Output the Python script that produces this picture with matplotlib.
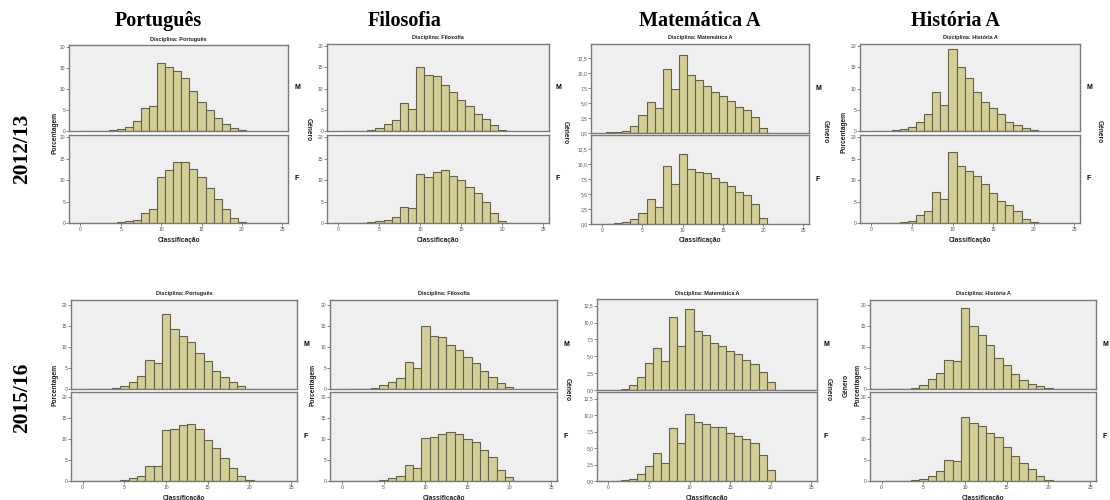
import matplotlib.pyplot as plt
import numpy as np

# classificação (0-20 scale), bins centred on integers
grades = np.arange(1, 21)

# 2012/13, percentages per grade
pt_12_m = [0.02, 0.02, 0.05, 0.15, 0.5, 1.0, 2.3, 5.4, 5.9, 16.3, 15.2, 14.3, 12.6, 9.5, 6.8, 5.1, 3.1, 1.6, 0.6, 0.15]
pt_12_f = [0.0, 0.01, 0.02, 0.05, 0.15, 0.4, 0.8, 2.4, 3.3, 10.8, 12.4, 14.3, 14.1, 12.6, 10.6, 8.2, 5.6, 3.2, 1.2, 0.15]
fil_12_m = [0.0, 0.02, 0.1, 0.3, 0.8, 1.7, 2.6, 6.5, 5.3, 15.0, 13.2, 12.9, 10.9, 9.1, 7.3, 5.9, 4.1, 2.9, 1.4, 0.3]
fil_12_f = [0.0, 0.02, 0.05, 0.2, 0.4, 0.7, 1.4, 3.8, 3.4, 11.3, 10.8, 11.9, 12.3, 11.0, 10.0, 8.3, 6.9, 5.0, 2.4, 0.5]
mat_12_m = [0.1, 0.2, 0.4, 1.1, 3.0, 5.2, 4.1, 10.6, 7.3, 12.9, 9.6, 8.8, 7.8, 6.9, 6.2, 5.3, 4.4, 3.9, 2.6, 0.9]
mat_12_f = [0.05, 0.15, 0.3, 0.8, 1.9, 4.1, 2.9, 9.6, 6.6, 11.6, 9.1, 8.7, 8.5, 7.7, 7.0, 6.4, 5.4, 4.8, 3.4, 1.0]
his_12_m = [0.0, 0.05, 0.15, 0.4, 1.0, 2.2, 4.0, 9.3, 6.2, 19.3, 15.0, 12.4, 9.3, 6.9, 5.4, 3.9, 2.2, 1.5, 0.6, 0.15]
his_12_f = [0.0, 0.02, 0.05, 0.15, 0.5, 1.9, 2.9, 7.3, 5.6, 16.6, 13.2, 12.0, 11.0, 9.1, 6.9, 5.1, 4.1, 2.7, 0.9, 0.15]

# 2015/16
pt_15_m = [0.0, 0.05, 0.1, 0.25, 0.7, 1.7, 3.2, 7.0, 6.2, 17.8, 14.4, 12.6, 11.1, 8.6, 6.6, 4.4, 2.8, 1.6, 0.6, 0.1]
pt_15_f = [0.0, 0.01, 0.03, 0.1, 0.3, 0.7, 1.3, 3.5, 3.6, 12.1, 12.4, 13.3, 13.5, 12.5, 9.8, 7.9, 5.5, 3.2, 1.3, 0.15]
fil_15_m = [0.0, 0.03, 0.1, 0.25, 0.9, 1.7, 2.6, 6.4, 5.0, 15.1, 12.7, 12.5, 10.6, 9.2, 7.7, 6.2, 4.4, 2.9, 1.4, 0.4]
fil_15_f = [0.0, 0.02, 0.05, 0.1, 0.3, 0.7, 1.3, 3.7, 3.0, 10.2, 10.6, 11.3, 11.6, 11.3, 10.1, 9.4, 7.5, 5.8, 2.6, 0.9]
mat_15_m = [0.05, 0.2, 0.75, 1.9, 4.0, 6.3, 4.3, 10.9, 6.6, 12.0, 8.7, 8.2, 7.0, 6.6, 5.8, 5.4, 4.5, 3.8, 2.7, 1.2]
mat_15_f = [0.05, 0.1, 0.35, 1.0, 2.2, 4.2, 2.7, 8.1, 5.7, 10.2, 8.9, 8.6, 8.2, 8.2, 7.3, 6.8, 6.3, 5.8, 3.9, 1.6]
his_15_m = [0.0, 0.05, 0.1, 0.3, 0.95, 2.3, 3.7, 7.0, 6.7, 19.4, 14.9, 12.9, 10.4, 7.4, 5.7, 3.6, 2.2, 1.3, 0.6, 0.15]
his_15_f = [0.0, 0.02, 0.05, 0.15, 0.5, 1.2, 2.3, 5.1, 4.7, 15.2, 13.8, 13.0, 11.5, 10.4, 8.0, 6.0, 4.4, 2.8, 1.3, 0.15]

subjects = ["Português", "Filosofia", "Matemática A", "História A"]
years = ["2012/13", "2015/16"]
x_ticks = [0, 5, 10, 15, 20, 25]
pct_ticks = [0, 5, 10, 15, 20]
mat_ticks = [0.0, 2.5, 5.0, 7.5, 10.0, 12.5]

W, H = 1110, 500
BAR = "#d3cd97"
EDGE = "#66624a"
PANEL = "#efefef"
SPINE = "#7a7a7a"

fig = plt.figure(figsize=(W / 100, H / 100), dpi=100)
fig.patch.set_facecolor("white")


def px_axes(x0, x1, y0, y1):
    return fig.add_axes([x0 / W, 1 - y1 / H, (x1 - x0) / W, (y1 - y0) / H])


def txt(x, y, s, **kw):
    fig.text(x / W, 1 - y / H, s, **kw)


def style(ax, yticks, ymax, fmt, bottom):
    ax.set_facecolor(PANEL)
    ax.set_xlim(-1.4, 25.7)
    ax.set_ylim(0, ymax)
    for sp in ax.spines.values():
        sp.set_color(SPINE)
        sp.set_linewidth(1.0)
    ax.set_yticks(yticks)
    ax.set_yticklabels([fmt(v) for v in yticks])
    ax.tick_params(axis="y", length=2, width=0.5, pad=0.5, labelsize=3.6,
                   colors="#555555")
    if bottom:
        ax.set_xticks(x_ticks)
        ax.tick_params(axis="x", length=2, width=0.5, pad=1, labelsize=3.6,
                       colors="#555555")
    else:
        ax.set_xticks([])


def pct_fmt(v):
    return f"{v:g}"


def mat_fmt(v):
    return f"{v:.1f}".replace(".", ",")


def panel(x0, x1, top, mid1, mid2, bot, m_vals, f_vals, subj, ymax, yticks, fmt):
    ax_m = px_axes(x0, x1, top, mid1)
    ax_f = px_axes(x0, x1, mid2, bot)
    for ax, vals in ((ax_m, m_vals), (ax_f, f_vals)):
        ax.bar(grades, vals, width=1.0, color=BAR, edgecolor=EDGE, linewidth=0.8)
    style(ax_m, yticks, ymax, fmt, False)
    style(ax_f, yticks, ymax, fmt, True)
    txt((x0 + x1) / 2, top - 6, "Disciplina: " + subj, ha="center", va="center",
        fontsize=4, fontweight="bold", color="#222222")
    txt(x1 + 9, (top + mid1) / 2, "M", ha="center", va="center", fontsize=5,
        fontweight="bold")
    txt(x1 + 9, (mid2 + bot) / 2, "F", ha="center", va="center", fontsize=5,
        fontweight="bold")
    txt((x0 + x1) / 2, bot + 17, "Classificação", ha="center", va="center",
        fontsize=4.8, fontweight="bold", color="#222222")


plt.rcParams["font.family"] = ["Liberation Sans", "DejaVu Sans"]

# row 2012/13
panel(69, 288, 45, 131, 135, 223, pt_12_m, pt_12_f, subjects[0], 20.5, pct_ticks, pct_fmt)
panel(327, 549, 44, 131, 135, 223, fil_12_m, fil_12_f, subjects[1], 20.5, pct_ticks, pct_fmt)
panel(591, 809, 44, 133, 135, 224, mat_12_m, mat_12_f, subjects[2], 14.8, mat_ticks, mat_fmt)
panel(860, 1080, 44, 131, 135, 223, his_12_m, his_12_f, subjects[3], 20.5, pct_ticks, pct_fmt)

# row 2015/16
panel(71, 297, 300, 389, 392, 481, pt_15_m, pt_15_f, subjects[0], 21.2, pct_ticks, pct_fmt)
panel(330, 557, 300, 389, 392, 481, fil_15_m, fil_15_f, subjects[1], 21.2, pct_ticks, pct_fmt)
panel(597, 817, 299, 390, 392, 481, mat_15_m, mat_15_f, subjects[2], 13.5, mat_ticks, mat_fmt)
panel(870, 1096, 300, 389, 392, 481, his_15_m, his_15_f, subjects[3], 21.2, pct_ticks, pct_fmt)

# side labels left over from the SPSS exports
lab = dict(ha="center", va="center", fontsize=4.8, fontweight="bold", color="#222222")
for x, y, s, rot in [
    (55, 133, "Porcentagem", 90), (308, 130, "Género", 270),
    (565, 133, "Género", 270), (825, 132, "Género", 270),
    (844, 132, "Porcentagem", 90), (1099, 132, "Género", 270),
    (55, 385, "Porcentagem", 90), (313, 385, "Porcentagem", 90),
    (567, 390, "Género", 270), (828, 390, "Género", 270),
    (846, 385, "Género", 90), (858, 385, "Porcentagem", 90),
]:
    txt(x, y, s, rotation=rot, **lab)

# column headers and row labels
head = dict(ha="center", va="center", fontweight="bold",
            family=["Liberation Serif", "DejaVu Serif"])
for x, s in zip([158, 405, 700, 955], subjects):
    txt(x, 21, s, fontsize=14.5, **head)
txt(22, 149, years[0], rotation=90, fontsize=15.5, **head)
txt(22, 398, years[1], rotation=90, fontsize=15.5, **head)

fig.savefig("out.png", dpi=100, facecolor="white")
